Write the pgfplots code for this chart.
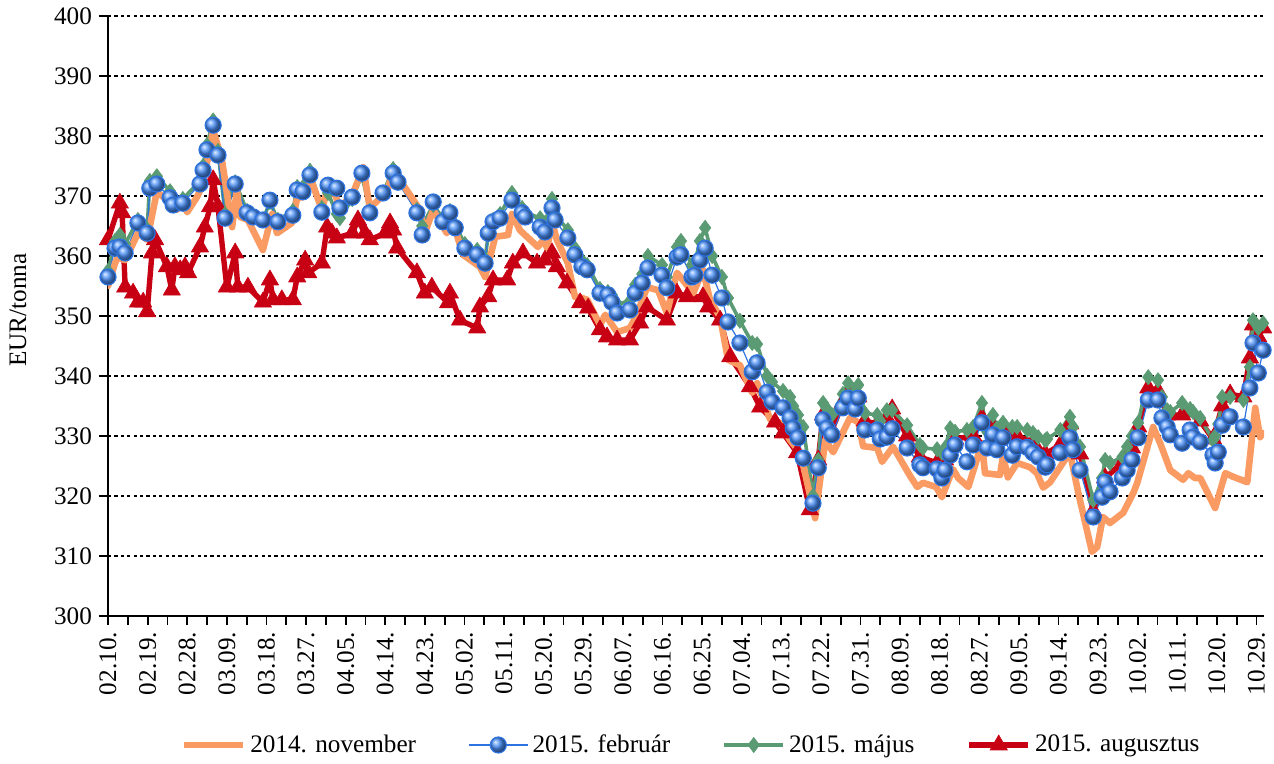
\documentclass[border=0pt]{standalone}
\usepackage{fontspec}
\setmainfont{Liberation Serif}
\usepackage{pgfplots}
\pgfplotsset{compat=1.18}
\definecolor{corange}{RGB}{250,155,100}
\definecolor{cblue}{RGB}{45,115,225}
\definecolor{cball}{RGB}{75,145,250}
\definecolor{cgreen}{RGB}{90,155,115}
\definecolor{cred}{RGB}{200,0,20}
\newcommand{\fs}{\fontsize{12.6}{15}\selectfont}
\begin{document}
\begin{tikzpicture}
\useasboundingbox (-54pt,-74pt) rectangle (583pt,308pt);
\begin{axis}[
  at={(0,0)}, anchor=south west,
  scale only axis, width=578pt, height=300pt,
  xmin=0, xmax=262.7, ymin=300, ymax=400,
  axis x line*=bottom, axis y line*=left,
  axis line style={line width=1pt, black},
  ytick={300,310,...,400},
  xtick={0,9,...,261},
  minor xtick={4.5,13.5,...,265},
  xticklabels={02.10.,02.19.,02.28.,03.09.,03.18.,03.27.,04.05.,04.14.,04.23.,05.02.,05.11.,05.20.,05.29.,06.07.,06.16.,06.25.,07.04.,07.13.,07.22.,07.31.,08.09.,08.18.,08.27.,09.05.,09.14.,09.23.,10.02.,10.11.,10.20.,10.29.},
  xticklabel style={rotate=90, anchor=east, font=\fs},
  yticklabel style={font=\fs},
  /pgf/number format/assume math mode=true,
  tick align=outside,
  major tick length=4.5pt, minor tick length=4.5pt,
  tick style={black, line width=0.9pt},
  minor tick style={black, line width=0.9pt},
  ymajorgrids,
  grid style={black, line width=0.8pt, dash pattern=on 1.6pt off 1.6pt},
  ylabel={EUR/tonna},
  ylabel style={at={(axis description cs:-0.078,0.51)}, anchor=center, font=\fs},
  legend style={at={(axis description cs:0.5,0)}, yshift=-64.5pt, xshift=3pt, anchor=center, draw=none, fill=none, legend columns=4, font=\fs, /tikz/every even column/.append style={column sep=24pt}},
  legend image code/.code={\draw[mark repeat=2,mark phase=2,#1] plot coordinates {(0cm,0cm) (0.52cm,0cm) (1.04cm,0cm)};},
]
\addlegendimage{corange, line width=3.3pt}
\addlegendentry{2014. november}
\addlegendimage{cblue, line width=0.6pt, mark=ball, mark size=4pt, mark options={ball color=cball}}
\addlegendentry{2015. február}
\addlegendimage{cgreen, line width=1.8pt, mark=diamond*, mark size=3.8pt, mark options={fill=cgreen, draw=cgreen, line width=0.3pt}}
\addlegendentry{2015. május}
\addlegendimage{cred, line width=2.7pt, mark=triangle*, mark size=5pt, mark options={fill=cred, draw=cred, line width=0.3pt}}
\addlegendentry{2015. augusztus}

% 2015 augusztus
\addplot[forget plot, cred, line width=2.7pt, line join=round, mark=triangle*, mark size=5pt, mark options={fill=cred, draw=cred, line width=0.3pt}] coordinates {
(0,362.7) (2.7,368.8) (3.2,367.2) (3.9,354.8) (5.7,353.8) (6.8,352.3) (8.0,352.3) (8.9,350.7)
(10.0,360.5) (10.7,362.7) (13.4,358.2) (14.5,354.3) (15.2,358.2) (16.4,357.7) (17.5,358.2) (18.2,357.2)
(20.9,361.5) (22.0,364.8) (23.2,368.2) (23.9,372.7) (25.0,368.2) (27.0,354.8) (28.9,360.5) (29.5,354.8)
(31.8,354.8) (35.2,352.3) (36.8,356) (37.5,352.7) (39.5,352.7) (42.0,352.7) (43.0,356.5) (44.8,359.3)
(45.5,357.2) (48.6,358.8) (49.8,364.8) (50.9,363.8) (52.0,363) (55.5,363.8) (56.8,366) (58.4,363.8)
(59.5,362.7) (63.0,363.8) (64.1,365.5) (64.8,364.3) (65.7,361.3) (70.2,357.2) (72.0,353.8) (73.6,354.8)
(77.3,352.2) (77.7,353.8) (80.0,349.3) (83.9,348) (84.5,351.5) (86.4,353.2) (87.5,356) (90.7,356)
(92.0,358.8) (94.3,360.5) (97.5,358.8) (99.3,359.3) (100.9,360.5) (102.0,358.2) (104.3,355.5) (107.3,352.2)
(109.1,351.3) (111.8,347.7) (113.4,346.5) (115.7,346) (118.6,346) (120.9,348.8) (122.5,351.5) (127.0,349.3)
(129.3,353.8) (131.6,353.2) (135.2,353.2) (136.4,351.5) (139.1,349.3) (141.4,343.2) (145.9,338.2) (148.2,334.8)
(151.6,332.3) (153.4,330.5) (156.6,327.2) (159.5,317.7) (161.4,326) (162.5,333.5) (164.5,331) (167.0,335.5)
(168.2,337) (170.5,336.5) (172.0,332.5) (174.8,332) (177.0,333) (178.2,334.5) (181.6,330) (184.5,326.5)
(188.4,325.5) (190.2,326) (192.5,329.5) (196.6,330) (198.6,333) (201.1,331.5) (203.4,331) (206.6,330)
(210.2,329) (213.0,327) (216.4,328.5) (218.6,332) (220.9,327) (223.9,317.5) (226.6,323) (230.5,325.5)
(232.7,328) (234.1,331.5) (236.4,338) (238.6,337.5) (240.7,333.5) (244.1,333.5) (245.9,334) (248.2,332.5)
(251.1,329.5) (253.2,335) (255.0,337) (258.0,336.5) (259.5,343) (260.2,348.5) (261.4,346.5) (262.5,348)
};

% 2015 majus
\addplot[forget plot, cgreen, line width=1.8pt, line join=round, mark=diamond*, mark size=3.8pt, mark options={fill=cgreen, draw=cgreen, line width=0.3pt}] coordinates {
(0,357.5) (1.6,362.5) (2.7,363.5) (3.9,362) (6.8,366) (8.9,364.5) (9.5,372.5) (11.1,373.3)
(14.1,370.8) (14.8,369.5) (17.0,369.5) (20.9,372.5) (21.6,375) (22.5,378.5) (23.9,382.6) (25.0,377.5)
(26.6,367) (28.9,372.3) (31.6,367.5) (33.0,366.5) (35.2,366) (36.8,369) (38.6,366) (42.0,367.5)
(43.0,371.5) (44.3,371.5) (45.9,374.2) (48.6,368) (50.0,370.5) (52.0,367) (52.7,366.3) (55.5,369.5)
(57.7,373.5) (59.5,367.5) (62.5,370.5) (64.8,374.5) (65.9,373) (70.2,367.7) (71.4,365) (73.9,368.5)
(76.1,366.3) (77.7,367.5) (78.9,365.2) (81.1,362) (83.9,361) (85.7,359.5) (86.4,363.5) (87.5,366)
(89.1,367) (91.8,370.5) (94.1,368) (94.8,367.3) (98.2,366.3) (99.3,365.5) (100.9,369.5) (101.6,367)
(104.5,364.3) (106.1,361.3) (107.7,359.3) (108.9,358.5) (111.8,354.5) (113.6,354) (114.5,353.5) (115.7,352)
(118.6,352.5) (119.8,355.2) (121.4,357) (122.7,360) (125.9,358.5) (127.0,356.5) (129.3,361.5) (130.2,362.5)
(132.7,358.5) (133.4,359) (134.5,362.5) (135.7,364.7) (137.3,360) (139.5,356.5) (140.9,353) (143.6,349.2)
(146.4,345.5) (147.5,345.3) (149.8,340) (150.9,339) (153.4,337.5) (155.0,336.5) (155.7,335) (156.8,333.5)
(158.0,331.5) (160.2,320) (161.4,326) (162.5,335.5) (163.4,334.5) (164.5,333.5) (167.0,337) (168.2,338.8)
(169.8,337.5) (170.5,338.5) (172.0,333.8) (174.8,333.5) (175.5,332.5) (177.0,334.3) (178.2,334.3) (181.6,331.8)
(184.5,328.5) (185.2,328) (188.4,327.8) (189.5,327.2) (190.2,328) (191.4,331.3) (192.5,330.7) (195.2,331)
(196.6,331.5) (198.6,335.5) (199.8,330.7) (201.1,333.5) (202.0,331.3) (203.4,332.2) (205.5,331.5) (206.6,331.5)
(208.9,331) (210.2,330.5) (211.4,329.8) (213.0,329.3) (213.4,329.5) (216.4,331) (218.6,333.2) (219.3,331.5)
(220.9,328.2) (223.9,319.3) (225.9,323) (226.6,326) (227.7,325.5) (230.5,326.5) (231.6,328.2) (232.7,330)
(234.1,332.2) (236.4,339.8) (238.6,339.3) (239.5,336.5) (240.7,334.3) (241.4,334) (244.1,335.5) (245.9,334.5)
(246.6,334) (248.2,333) (251.1,329.3) (251.6,330) (252.3,332) (253.2,336.5) (255.0,336.5) (258.0,336)
(259.5,341.5) (260.2,349.3) (261.4,348) (262.5,348.8)
};

% 2015 februar
\addplot[forget plot, cblue, line width=0.6pt, line join=round, mark=ball, mark size=4pt, mark options={ball color=cball}] coordinates {
(0,356.5) (1.6,361.3) (2.7,361.5) (3.9,360.5) (6.8,365.5) (8.9,363.8) (9.5,371.3) (11.1,372)
(14.1,369.7) (14.8,368.5) (17.0,368.8) (20.9,372) (21.6,374.3) (22.5,377.7) (23.9,381.8) (25.0,376.8)
(26.6,366.3) (28.9,372) (31.6,367.2) (33.0,366.5) (35.2,366) (36.8,369.3) (38.6,365.7) (42.0,366.8)
(43.0,371) (44.3,370.7) (45.9,373.5) (48.6,367.3) (50.0,371.8) (52.0,371.3) (52.7,368) (55.5,369.8)
(57.7,373.8) (59.5,367.2) (62.5,370.5) (64.8,373.8) (65.9,372.3) (70.2,367.2) (71.4,363.5) (73.9,369)
(76.1,365.7) (77.7,367.2) (78.9,364.7) (81.1,361.3) (83.9,360.2) (85.7,358.8) (86.4,363.8) (87.5,365.7)
(89.1,366.3) (91.8,369.3) (94.1,367.2) (94.8,366.5) (98.2,364.8) (99.3,364) (100.9,368) (101.6,366)
(104.5,363) (106.1,360.2) (107.7,358.2) (108.9,357.7) (111.8,353.8) (113.6,353.5) (114.5,352.3) (115.7,350.5)
(118.6,351) (119.8,353.8) (121.4,355.5) (122.7,358) (125.9,356.8) (127.0,354.7) (129.3,359.8) (130.2,360.2)
(132.7,356.5) (133.4,356.8) (134.5,359.3) (135.7,361.3) (137.3,356.8) (139.5,353) (140.9,349) (143.6,345.5)
(146.4,340.7) (147.5,342.2) (149.8,337.3) (150.9,335.7) (153.4,334.7) (155.0,333) (155.7,331.3) (156.8,329.7)
(158.0,326.3) (160.2,318.8) (161.4,324.7) (162.5,332.7) (163.4,331.3) (164.5,330.2) (167.0,334.7) (168.2,336.3)
(169.8,334.5) (170.5,336.3) (172.0,331) (174.8,331) (175.5,329.5) (177.0,329.8) (178.2,331.2) (181.6,328)
(184.5,325.2) (185.2,324.7) (188.4,324.5) (189.5,323) (190.2,324.3) (191.4,326.8) (192.5,328.5) (195.2,325.7)
(196.6,328.5) (198.6,332.2) (199.8,328) (201.1,330.2) (202.0,327.7) (203.4,329.7) (205.5,326.8) (206.6,328.2)
(208.9,328.1) (210.2,327.2) (211.4,326.5) (213.0,324.8) (213.4,325.2) (216.4,327.2) (218.6,329.7) (219.3,327.7)
(220.9,324.3) (223.9,316.5) (225.9,319.8) (226.6,322.3) (227.7,320.7) (230.5,323) (231.6,324.3) (232.7,326)
(234.1,329.7) (236.4,336) (238.6,336) (239.5,333) (240.7,331.5) (241.4,330.2) (244.1,328.8) (245.9,331)
(246.6,329.8) (248.2,329) (251.1,326.8) (251.6,325.5) (252.3,327.3) (253.2,331.8) (255.0,333.2) (258.0,331.5)
(259.5,338) (260.2,345.5) (261.4,340.5) (262.5,344.3)
};

% 2014 november
\addplot[forget plot, corange, line width=3.3pt, line join=round, line cap=round] coordinates {
(0,355) (1.6,358.8) (2.3,359.8) (3.9,359.3) (6.8,363.8) (8.9,362.7) (11.1,370.7) (14.8,368.5)
(15.7,367.7) (16.8,369) (18.0,367.3) (20.2,369.8) (21.6,372) (23.9,381) (25.9,376) (28.2,364.8)
(29.3,371) (30.0,366.5) (31.8,366) (35.2,361) (37.3,367) (38.4,363.8) (41.8,365.5) (43.0,369.7)
(44.3,369.8) (45.9,373.2) (48.6,367.7) (50.0,371.5) (51.1,371.3) (52.7,368) (55.7,370.5) (58.0,374.8)
(59.5,368) (63.4,370.7) (64.8,374.3) (70.9,367.7) (72.0,363.8) (73.9,367.7) (77.0,363.8) (78.2,366)
(80.7,360.2) (84.5,358.2) (85.7,356.5) (88.0,363.2) (90.9,363.5) (91.8,367) (93.6,364.3) (97.7,361.5)
(98.9,362.7) (99.8,361.3) (100.9,365.7) (102.0,362.7) (104.5,358.8) (106.1,353.2) (107.7,353) (108.9,352.7)
(111.8,348.5) (113.0,350.2) (115.7,347.3) (118.6,348) (120.2,350.2) (122.5,354.8) (125.0,354.3) (127.0,350.5)
(129.3,357.2) (133.0,353.8) (135.2,357.7) (136.8,352.7) (139.1,349.8) (140.9,342.7) (143.6,341.8) (146.4,337.2)
(147.5,338.8) (150.5,332.7) (152.7,332.2) (155.0,329.3) (157.3,327.2) (158.4,323.8) (160.7,316.3) (163.0,329.3)
(164.8,327.3) (168.6,333) (170.5,332.3) (171.6,328.3) (174.8,328) (175.9,325.7) (178.4,328.2) (182.3,323.3)
(183.9,321.5) (185.2,322.2) (188.2,321.5) (189.5,319.8) (192.0,324.5) (193.2,323) (195.5,321.5) (198.6,328.8)
(199.3,323.8) (202.7,323.5) (203.4,326.7) (204.5,323.1) (206.6,325.5) (209.5,324.8) (211.1,323.8) (212.5,321.4)
(214.1,322.3) (218.6,327.3) (220.5,320.5) (223.6,310.7) (224.8,311.5) (226.1,316.5) (227.7,315.5) (230.7,317.2)
(233.0,320.5) (233.9,322.2) (237.5,331.5) (239.1,328.8) (241.4,324.3) (244.3,322.7) (245.5,323.8) (247.0,323)
(248.2,323) (251.6,318) (253.9,323.8) (255.7,323.2) (258.9,322.3) (260.7,334.7) (261.8,329.8) (262.5,330.5)
};
\end{axis}
\end{tikzpicture}
\end{document}
